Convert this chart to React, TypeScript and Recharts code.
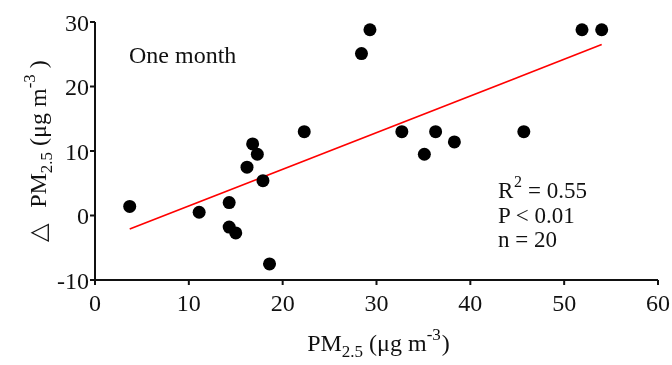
import { ScatterChart, Scatter, XAxis, YAxis, ReferenceLine } from "recharts";

// PM2.5 concentration (x) vs change in PM2.5 (y), one-month window
const pmValues = [3.7, 11.1, 14.3, 14.3, 15.0, 16.2, 16.8, 17.3, 17.9, 18.6, 22.3, 28.4, 29.3, 32.7, 35.1, 36.3, 38.3, 45.7, 51.9, 54.0];
const deltaValues = [1.4, 0.5, 2.0, -1.8, -2.7, 7.5, 11.1, 9.5, 5.4, -7.5, 13.0, 25.1, 28.8, 13.0, 9.5, 13.0, 11.4, 13.0, 28.8, 28.8];
const xTicks = [0, 10, 20, 30, 40, 50, 60];
const yTicks = [-10, 0, 10, 20, 30];
const fitStart = { x: 3.7, y: -2.1 };
const fitEnd = { x: 54.0, y: 26.5 };
const statLines = ["= 0.55", "P < 0.01", "n = 20"];

const points = pmValues.map((x, i) => ({ x, y: deltaValues[i] }));

const FONT = '"Liberation Serif", "Times New Roman", serif';
const INK = "#111";

const Dot = (props: any) => <circle cx={props.cx} cy={props.cy} r={6.5} fill="#000" />;

const Tick = ({ x, y, payload, textAnchor, dy }: any) => (
  <text x={x} y={y} dy={dy} textAnchor={textAnchor} fontFamily={FONT} fontSize={24} fill={INK}>
    {payload.value}
  </text>
);

const XTick = (props: any) => <Tick {...props} dy="0.71em" />;
const YTick = (props: any) => <Tick {...props} dy="0.355em" />;

const XLabel = ({ viewBox }: any) => {
  const cx = viewBox.x + viewBox.width / 2;
  return (
    <text x={cx + 2} y={viewBox.y + 71} textAnchor="middle" fontFamily={FONT} fontSize={24} fill={INK}>
      PM
      <tspan fontSize={17} dy={6}>2.5</tspan>
      <tspan dy={-6}> (μg m</tspan>
      <tspan fontSize={17} dy={-11}>-3</tspan>
      <tspan dy={11} dx={1}>)</tspan>
    </text>
  );
};

const YLabel = ({ viewBox }: any) => {
  const x = 38;
  const y = viewBox.y + viewBox.height / 2;
  return (
    <text
      x={x}
      y={y}
      transform={`rotate(-90, ${x}, ${y})`}
      textAnchor="middle"
      fontFamily={FONT}
      fontSize={24}
      fill={INK}
    >
      △
      <tspan dx={16}>PM</tspan>
      <tspan fontSize={17} dy={6}>2.5</tspan>
      <tspan dy={-6}> (μg m</tspan>
      <tspan fontSize={17} dy={-11}>-3</tspan>
      <tspan dy={11} dx={6}>)</tspan>
    </text>
  );
};

export default function App() {
  return (
    <div style={{ position: "fixed", left: 8, top: 8, fontFamily: FONT }}>
      <ScatterChart width={664} height={357} margin={{ top: 14, right: 14, bottom: 0, left: 0 }} style={{ fontFamily: FONT }}>
        <XAxis
          type="number"
          dataKey="x"
          domain={[0, 60]}
          ticks={xTicks}
          height={85}
          stroke={INK}
          strokeWidth={2}
          tickSize={5}
          tickMargin={9}
          tick={XTick}
          label={{ content: XLabel }}
        />
        <YAxis
          type="number"
          dataKey="y"
          domain={[-10, 30]}
          ticks={yTicks}
          width={87}
          stroke={INK}
          strokeWidth={2}
          tickSize={5}
          tickMargin={1}
          tick={YTick}
          label={{ content: YLabel }}
        />
        <ReferenceLine segment={[fitStart, fitEnd]} stroke="#ff0000" strokeWidth={1.6} />
        <Scatter data={points} shape={Dot} isAnimationActive={false} />
        <text x={121} y={55} fontFamily={FONT} fontSize={24} fill={INK}>One month</text>
        <text x={490} y={190} fontFamily={FONT} fontSize={23} fill={INK}>R</text>
        <text x={506} y={179} fontFamily={FONT} fontSize={16} fill={INK}>2</text>
        <text x={520} y={190} fontFamily={FONT} fontSize={23} fill={INK}>{statLines[0]}</text>
        <text x={490} y={214.5} fontFamily={FONT} fontSize={23} fill={INK}>{statLines[1]}</text>
        <text x={490} y={239} fontFamily={FONT} fontSize={23} fill={INK}>{statLines[2]}</text>
      </ScatterChart>
    </div>
  );
}
